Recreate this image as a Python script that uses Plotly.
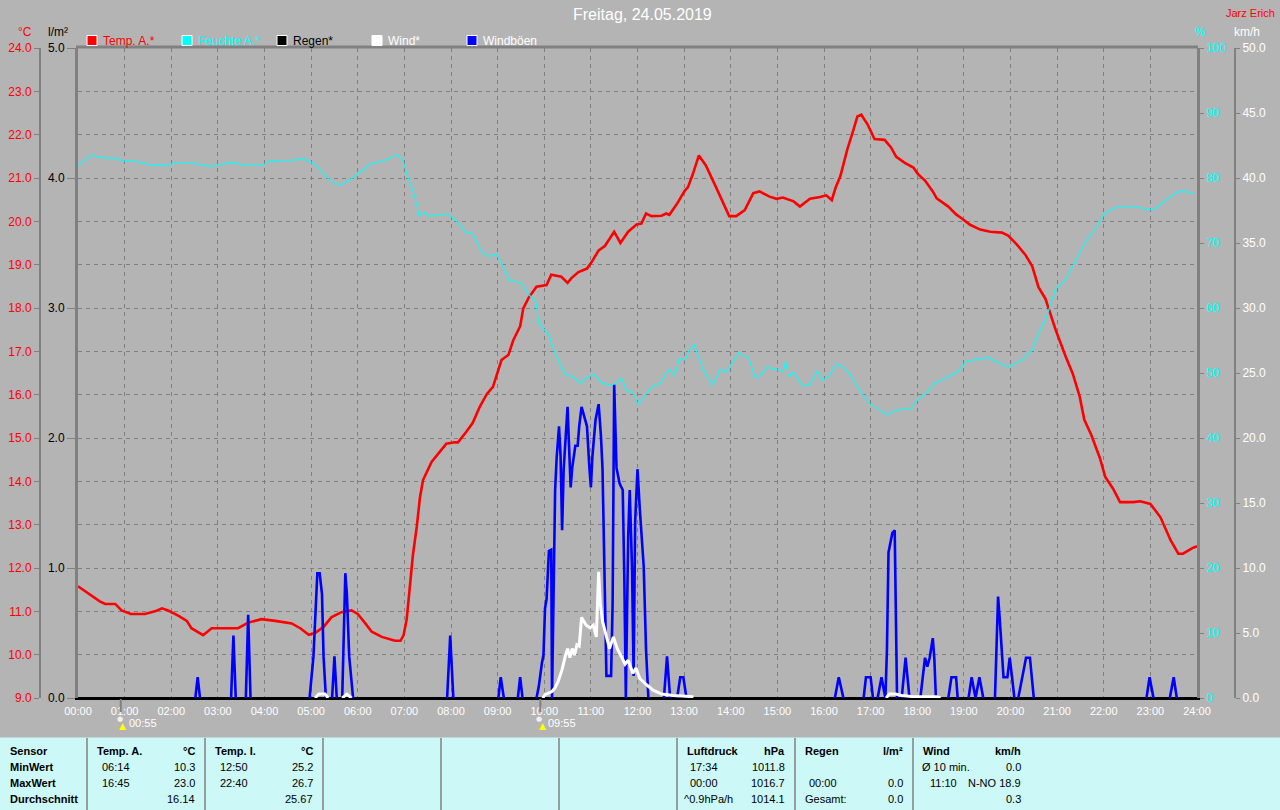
import plotly.graph_objects as go

# ------------------------------------------------------------------ data
temp_times = ["00:00","00:13","00:28","00:35","00:48","00:56","01:08","01:26","01:39","01:48","01:56",
              "02:09","02:20","02:26","02:41","02:52","03:26","03:39","03:56","04:14","04:35","04:46",
              "04:57","05:05","05:16","05:26","05:39","05:52","06:00","06:09","06:18","06:31","06:48",
              "06:55","06:59","07:03","07:07","07:11","07:16","07:20","07:24","07:35","07:46","07:54",
              "08:05","08:09","08:20","08:28","08:37","08:46","08:54","09:01","09:05","09:14","09:20",
              "09:29","09:33","09:40","09:50","10:03","10:09","10:22","10:30","10:35","10:44","10:55",
              "11:01","11:10","11:18","11:30","11:38","11:48","11:59","12:05","12:11","12:18","12:31",
              "12:37","12:41","12:50","13:01","13:05","13:11","13:19","13:28","13:41","13:52","13:58",
              "14:07","14:18","14:29","14:37","14:50","14:59","15:07","15:21","15:29","15:42","15:55",
              "16:03","16:10","16:15","16:21","16:30","16:37","16:43","16:48","16:56","17:05","17:18",
              "17:26","17:33","17:44","17:55","18:01","18:10","18:20","18:25","18:40","18:50","18:57",
              "19:08","19:21","19:34","19:49","19:57","20:08","20:19","20:28","20:36","20:45","20:58",
              "21:11","21:20","21:29","21:35","21:44","21:55","22:02","22:12","22:21","22:38","22:47",
              "23:00","23:13","23:26","23:36","23:42","23:54","24:00"]
temp_vals = [11.58,11.41,11.23,11.17,11.17,11.02,10.94,10.94,11.00,11.07,11.02,
             10.90,10.78,10.61,10.45,10.61,10.61,10.74,10.82,10.78,10.72,10.61,
             10.46,10.50,10.64,10.86,10.98,11.02,10.94,10.74,10.53,10.41,10.32,
             10.32,10.45,10.82,11.56,12.30,12.96,13.62,14.03,14.45,14.69,14.87,
             14.90,14.90,15.15,15.35,15.72,16.01,16.18,16.59,16.80,16.92,17.25,
             17.58,17.99,18.24,18.49,18.53,18.77,18.72,18.58,18.69,18.83,18.91,
             19.06,19.33,19.43,19.76,19.50,19.76,19.93,19.95,20.18,20.12,20.13,
             20.18,20.15,20.38,20.71,20.79,21.08,21.52,21.29,20.79,20.34,20.12,
             20.12,20.26,20.65,20.69,20.57,20.52,20.55,20.46,20.34,20.52,20.56,
             20.60,20.49,20.78,21.04,21.66,22.06,22.42,22.46,22.24,21.90,21.88,
             21.71,21.49,21.35,21.24,21.09,20.94,20.69,20.53,20.34,20.16,20.07,
             19.92,19.81,19.76,19.74,19.67,19.47,19.23,18.96,18.48,18.21,17.50,
             16.88,16.49,15.96,15.42,15.07,14.54,14.10,13.83,13.52,13.52,13.54,
             13.48,13.17,12.64,12.33,12.33,12.46,12.50]

hum_times = ["00:00","00:08","00:17","00:34","00:51","00:58","01:09","01:31","01:52","02:05","02:29",
             "02:42","02:55","03:16","03:34","03:58","04:08","04:30","04:51","05:04","05:17","05:26",
             "05:38","05:51","06:04","06:17","06:34","06:51","06:58","07:04","07:13","07:19","07:26",
             "07:33","07:41","07:50","07:55","08:04","08:20","08:28","08:39","08:49","08:58","09:06",
             "09:15","09:30","09:40","09:49","09:53","10:06","10:12","10:19","10:27","10:36","10:47",
             "10:53","11:04","11:15","11:29","11:39","11:46","11:54","12:01","12:11","12:20","12:29",
             "12:41","12:48","12:54","13:01","13:07","13:13","13:24","13:37","13:46","13:54","14:10",
             "14:23","14:32","14:40","14:47","15:07","15:11","15:14","15:21","15:32","15:42","15:51",
             "15:58","16:07","16:16","16:25","16:33","16:46","16:59","17:08","17:21","17:34","17:53",
             "18:00","18:15","18:22","18:35","18:52","19:03","19:18","19:31","19:48","19:57","20:15",
             "20:28","20:35","20:46","20:58","21:11","21:24","21:37","21:50","22:01","22:12","22:25",
             "22:42","23:04","23:21","23:36","23:47","23:55"]
hum_vals = [81.9,82.7,83.5,83.1,83.0,82.6,82.7,82.1,81.9,82.3,82.3,
            81.9,81.8,82.4,82.0,82.0,82.6,82.7,82.9,82.2,80.5,79.4,
            78.9,79.8,81.0,82.2,82.7,83.6,82.7,80.3,77.3,74.2,74.7,
            74.1,74.3,74.5,74.5,73.7,71.6,71.5,68.7,67.9,68.3,66.7,
            64.3,63.8,62.1,61.0,57.7,55.8,53.6,51.7,49.8,49.5,48.4,
            49.2,49.8,48.4,48.1,49.2,47.3,47.0,45.1,46.8,48.0,48.4,
            50.6,49.5,52.3,52.0,53.6,54.3,50.6,48.1,50.6,50.1,53.1,
            52.3,49.2,49.8,50.9,50.3,51.7,49.5,50.1,48.0,48.2,50.3,
            48.9,49.6,51.4,50.9,49.9,47.3,45.2,44.6,43.6,44.3,44.6,
            45.8,47.3,48.4,49.1,50.2,51.8,52.1,52.4,51.4,50.9,52.0,
            53.5,55.8,58.5,62.9,64.4,67.3,70.3,72.3,74.5,75.3,75.7,
            75.5,75.1,76.7,77.9,77.9,77.6]

# wind gusts (km/h); None separates the individual bursts
gust_times = ["02:31","02:34","02:37",None,
              "03:17","03:20","03:23",None,
              "03:36","03:39","03:42",None,
              "04:58","05:03","05:08","05:11","05:14","05:16","05:19",None,
              "05:27","05:30","05:33",None,
              "05:40","05:44","05:46","05:49","05:54",None,
              "07:55","07:59","08:03",None,
              "09:01","09:04","09:08",None,
              "09:26","09:29","09:32",None,
              "09:50","09:53","09:57","09:59","10:01","10:03","10:06","10:09","10:10","10:12",
              "10:14","10:16","10:19","10:21","10:23","10:25","10:28","10:30","10:32","10:34",
              "10:36","10:40","10:43","10:45","10:48","10:51","10:55","10:58","11:00","11:02",
              "11:06","11:10","11:13","11:15","11:18","11:20","11:26","11:28","11:30","11:33",
              "11:37","11:41","11:43","11:45","11:48","11:50","11:53","11:55","11:57","12:00",
              "12:03","12:08","12:11","12:14",None,
              "12:34","12:38","12:42",None,
              "12:51","12:55","12:59","13:03",None,
              "16:14","16:19","16:25",None,
              "16:51","16:54","17:00","17:03",None,
              "17:09","17:14","17:19","17:21","17:23","17:25","17:28","17:31","17:33","17:34",None,
              "17:40","17:45","17:50",None,
              "18:04","18:10","18:13","18:16","18:20","18:22","18:24",None,
              "18:40","18:44","18:50","18:52",None,
              "19:06","19:10","19:15","19:20","19:25",None,
              "19:40","19:42","19:44","19:46","19:49","19:51","19:56","19:59","20:02","20:05",None,
              "20:10","20:20","20:25","20:30",None,
              "22:55","22:59","23:04",None,
              "23:25","23:30","23:34"]
gust_vals = [0,1.6,0,None,
             0,4.8,0,None,
             0,6.4,0,None,
             0,3.2,9.6,9.6,8.0,3.2,0,None,
             0,3.2,0,None,
             0,9.6,8.0,3.2,0,None,
             0,4.8,0,None,
             0,1.6,0,None,
             0,1.6,0,None,
             0,0.9,2.7,3.3,6.9,7.6,11.3,11.4,0,9.4,
             16.0,18.5,20.9,18.6,12.9,17.6,20.9,22.4,19.2,16.2,
             17.7,19.4,19.4,20.9,22.4,21.7,20.9,17.8,16.2,18.6,
             21.4,22.6,20.1,17.6,7.3,1.7,1.7,7.3,24.1,17.7,
             16.5,16.0,9.4,0,12.4,16.0,9.9,1.7,13.6,17.6,
             14.5,10.1,3.7,0,None,
             0,3.2,0,None,
             0,1.6,1.6,0,None,
             0,1.6,0,None,
             0,1.6,1.6,0,None,
             0,1.6,0,3.7,11.2,11.7,12.7,12.9,4.2,0,None,
             0,3.1,0,None,
             0,3.1,2.4,3.1,4.6,3.0,0,None,
             0,1.6,1.6,0,None,
             0,1.6,0,1.6,0,None,
             0,3.3,7.8,6.2,3.0,1.6,1.6,3.1,1.6,0,None,
             0,3.1,3.1,0,None,
             0,1.6,0,None,
             0,1.6,0]

# mean wind (km/h)
wind_times = ["05:05","05:10","05:18","05:22",None,
              "05:40","05:46","05:52",None,
              "09:58","10:01","10:10","10:14","10:18","10:23","10:27","10:30","10:33","10:36",
              "10:39","10:42","10:45","10:48","10:54","10:59","11:03","11:07","11:10","11:12",
              "11:15","11:20","11:24","11:29","11:34","11:40","11:44","11:48","11:54","11:58",
              "12:03","12:12","12:20","12:31","12:46","13:12",None,
              "17:20","17:24","17:32","17:40","17:55","18:10","18:25","18:30"]
wind_vals = [0.0,0.3,0.3,0.0,None,
             0.0,0.3,0.0,None,
             0.0,0.26,0.5,0.8,1.3,2.2,3.2,3.8,3.1,3.8,
             3.3,4.1,4.0,6.2,5.6,5.4,5.6,4.7,9.7,7.3,
             5.9,4.7,3.8,4.7,3.8,3.1,2.6,2.9,1.9,2.3,
             1.5,1.0,0.6,0.3,0.2,0.1,None,
             0.0,0.3,0.3,0.2,0.1,0.1,0.1,0.0]

rain_times = ["00:00", "24:00"]
rain_vals = [0.0, 0.0]

hour_labels = ["00:00","01:00","02:00","03:00","04:00","05:00","06:00","07:00","08:00",
               "09:00","10:00","11:00","12:00","13:00","14:00","15:00","16:00","17:00",
               "18:00","19:00","20:00","21:00","22:00","23:00","24:00"]
event_times = ["00:55", "09:55"]

legend_names = ["Temp. A.*", "Feuchte A.*", "Regen*", "Wind*", "Windböen"]
legend_colors = ["#ff0000", "#00ffff", "#000000", "#ffffff", "#0000ff"]
legend_text_colors = ["#ff0000", "#00ffff", "#000000", "#ffffff", "#ffffff"]

row_labels = ["Sensor", "MinWert", "MaxWert", "Durchschnitt"]
tempA_head = ["Temp. A.", "°C"]
tempA_time = ["06:14", "16:45", ""]
tempA_val = ["10.3", "23.0", "16.14"]
tempI_head = ["Temp. I.", "°C"]
tempI_time = ["12:50", "22:40", ""]
tempI_val = ["25.2", "26.7", "25.67"]
press_head = ["Luftdruck", "hPa"]
press_time = ["17:34", "00:00", "^0.9hPa/h"]
press_val = ["1011.8", "1016.7", "1014.1"]
rain_head = ["Regen", "l/m²"]
rain_time = ["", "00:00", "Gesamt:"]
rain_val = ["", "0.0", "0.0"]
wind_head = ["Wind", "km/h"]
wind_time = ["Ø 10 min.", "11:10", ""]
wind_val = ["0.0", "N-NO 18.9", "0.3"]

# ------------------------------------------------------------------ helpers
W, H = 1280, 810
BG = "#b4b4b4"
GRID = "#7f7f7f"
FONT = "Liberation Sans, Arial, sans-serif"


def hrs(t):
    if t is None:
        return None
    h, m = t.split(":")
    return int(h) + int(m) / 60.0


def px(xp):
    return xp / W


def py(yp):
    return 1 - yp / H


X0, X1 = 78, 1197
Y0, Y1 = 48, 698

fig = go.Figure()

fig.add_trace(go.Scatter(x=[hrs(t) for t in temp_times], y=temp_vals, yaxis="y",
                         mode="lines", line=dict(color="#ff0000", width=2.6), hoverinfo="skip"))
fig.add_trace(go.Scatter(x=[hrs(t) for t in rain_times], y=rain_vals, yaxis="y2",
                         mode="lines", line=dict(color="#000000", width=2), hoverinfo="skip"))
fig.add_trace(go.Scatter(x=[hrs(t) for t in hum_times], y=hum_vals, yaxis="y3",
                         mode="lines", line=dict(color="#00ffff", width=1.1), hoverinfo="skip"))
fig.add_trace(go.Scatter(x=[hrs(t) for t in gust_times], y=gust_vals, yaxis="y4",
                         mode="lines", connectgaps=False,
                         line=dict(color="#0000ff", width=2.6), hoverinfo="skip"))
fig.add_trace(go.Scatter(x=[hrs(t) for t in wind_times], y=wind_vals, yaxis="y4",
                         mode="lines", connectgaps=False,
                         line=dict(color="#ffffff", width=3), hoverinfo="skip"))

dom_x = [px(X0), px(X1)]
dom_y = [py(Y1), py(Y0)]

fig.update_layout(
    width=W, height=H, margin=dict(l=0, r=0, t=0, b=0, pad=0, autoexpand=False),
    paper_bgcolor=BG, plot_bgcolor=BG, showlegend=False,
    font=dict(family=FONT, size=12, color="white"),
    xaxis=dict(domain=dom_x, range=[0, 24], tickmode="array",
               tickvals=list(range(25)), ticktext=hour_labels,
               showgrid=True, gridcolor=GRID, griddash="4px,4px", gridwidth=1,
               showline=True, linecolor="#000000", linewidth=2,
               ticks="outside", ticklen=2, tickcolor=BG,
               tickfont=dict(color="white", size=11, family=FONT),
               zeroline=False, anchor="y2", fixedrange=True, automargin=False),
    yaxis=dict(domain=dom_y, range=[9, 24], dtick=1, tickformat=".1f",
               showgrid=True, gridcolor=GRID, griddash="4px,4px", gridwidth=1,
               anchor="free", position=px(40), side="left",
               showline=True, linecolor="#808080", linewidth=2,
               ticks="outside", ticklen=5, tickcolor="#808080",
               tickfont=dict(color="#ff0000", size=12, family=FONT),
               zeroline=False, fixedrange=True, automargin=False),
    yaxis2=dict(domain=dom_y, range=[0, 5], dtick=1, tickformat=".1f",
                overlaying="y", anchor="x", side="left", showgrid=False,
                showline=True, linecolor="#808080", linewidth=3,
                ticks="outside", ticklen=8, tickcolor="#808080",
                tickfont=dict(color="#000000", size=12, family=FONT),
                zeroline=False, fixedrange=True, automargin=False),
    yaxis3=dict(domain=dom_y, range=[0, 100], dtick=10,
                overlaying="y", anchor="x", side="right", showgrid=False,
                showline=True, linecolor="#808080", linewidth=3,
                ticks="outside", ticklen=4, tickcolor="#808080",
                tickfont=dict(color="#00ffff", size=12, family=FONT),
                zeroline=False, fixedrange=True, automargin=False),
    yaxis4=dict(domain=dom_y, range=[0, 50], dtick=5, tickformat=".1f",
                overlaying="y", anchor="free", position=px(1235), side="right",
                showgrid=False, showline=True, linecolor="#808080", linewidth=2,
                ticks="outside", ticklen=4, tickcolor="#808080",
                tickfont=dict(color="#ffffff", size=12, family=FONT),
                zeroline=False, fixedrange=True, automargin=False),
)

shapes = []
ann = []

# top border of plot area
shapes.append(dict(type="line", xref="paper", yref="paper", x0=px(X0 - 2), x1=px(X1 + 1),
                   y0=py(Y0 - 1), y1=py(Y0 - 1), line=dict(color="#808080", width=3), layer="above"))

# title and author
ann.append(dict(text="Freitag, 24.05.2019", x=px(642), y=py(15), xref="paper", yref="paper",
                showarrow=False, xanchor="center", yanchor="middle",
                font=dict(color="white", size=16, family=FONT)))
ann.append(dict(text="Jarz Erich", x=px(1277), y=py(13), xref="paper", yref="paper",
                showarrow=False, xanchor="right", yanchor="middle",
                font=dict(color="#ff0000", size=11, family=FONT)))

# axis unit titles
for txt_, xc, col in [("°C", 25, "#ff0000"), ("l/m²", 58, "#000000"),
                      ("%", 1200, "#00ffff"), ("km/h", 1247, "#ffffff")]:
    ann.append(dict(text=txt_, x=px(xc), y=py(32), xref="paper", yref="paper",
                    showarrow=False, xanchor="center", yanchor="middle",
                    font=dict(color=col, size=12, family=FONT)))

# legend
for i, (name, c, tc) in enumerate(zip(legend_names, legend_colors, legend_text_colors)):
    x0 = 87 + 95 * i
    shapes.append(dict(type="rect", xref="paper", yref="paper",
                       x0=px(x0), x1=px(x0 + 10), y0=py(45.5), y1=py(35.5),
                       fillcolor=c, line=dict(color="white", width=1)))
    ann.append(dict(text=name, x=px(x0 + 14), y=py(40.5), xref="paper", yref="paper",
                    showarrow=False, xanchor="left", yanchor="middle",
                    font=dict(color=tc, size=12, family=FONT)))

# events below the time axis
for t in event_times:
    xv = hrs(t)
    shapes.append(dict(type="line", xref="x", yref="paper", x0=xv, x1=xv,
                       y0=py(699), y1=py(712), line=dict(color="#808080", width=2)))
    ann.append(dict(text="●", x=xv, y=py(719), xref="x", yref="paper", showarrow=False,
                    xanchor="center", yanchor="middle", xshift=-1,
                    font=dict(color="#f0f0f0", size=7, family="DejaVu Sans")))
    ann.append(dict(text="▲", x=xv, y=py(726), xref="x", yref="paper", showarrow=False,
                    xanchor="center", yanchor="middle", xshift=2,
                    font=dict(color="#ffff00", size=9, family="DejaVu Sans")))
    ann.append(dict(text=t, x=xv, y=py(723), xref="x", yref="paper", showarrow=False,
                    xanchor="left", yanchor="middle", xshift=6,
                    font=dict(color="white", size=11, family=FONT)))

# statistics table
shapes.append(dict(type="rect", xref="paper", yref="paper", x0=0, x1=1, y0=0, y1=py(737.5),
                   fillcolor="#ccf8f8", line=dict(width=0), layer="below"))
for sx in [87, 205, 323, 441, 559, 677, 795, 913]:
    shapes.append(dict(type="line", xref="paper", yref="paper", x0=px(sx), x1=px(sx),
                       y0=0, y1=py(738), line=dict(color="#808080", width=1.5)))

row_y = [751, 767, 783, 799]


def txt(s, x, y, anchor="left", bold=False):
    if not s:
        return
    ann.append(dict(text=("<b>%s</b>" % s) if bold else s, x=px(x), y=py(y),
                    xref="paper", yref="paper", showarrow=False,
                    xanchor=anchor, yanchor="middle",
                    font=dict(color="black", size=11, family=FONT)))


for i, lab in enumerate(row_labels):
    txt(lab, 8, row_y[i], bold=True)

cols = [(87, 205, tempA_head, tempA_time, tempA_val, [13, 13, 13]),
        (205, 323, tempI_head, tempI_time, tempI_val, [13, 13, 13]),
        (677, 795, press_head, press_time, press_val, [11, 11, 5]),
        (795, 913, rain_head, rain_time, rain_val, [12, 12, 8]),
        (913, 1031, wind_head, wind_time, wind_val, [7, 15, 15])]
for left, right, head, times, vals, offs in cols:
    txt(head[0], left + 8, row_y[0], bold=True)
    txt(head[1], right - 8, row_y[0], anchor="right", bold=True)
    for r in range(3):
        txt(times[r], left + offs[r], row_y[r + 1])
        txt(vals[r], right - 8, row_y[r + 1], anchor="right")

fig.update_layout(shapes=shapes, annotations=ann)
fig.write_html(
    "out.html",
    config={"displayModeBar": False, "staticPlot": True},
    post_script=("document.documentElement.style.margin='0';"
                 "document.body.style.margin='0';document.body.style.padding='0';"
                 "document.body.style.overflow='hidden';"),
)
